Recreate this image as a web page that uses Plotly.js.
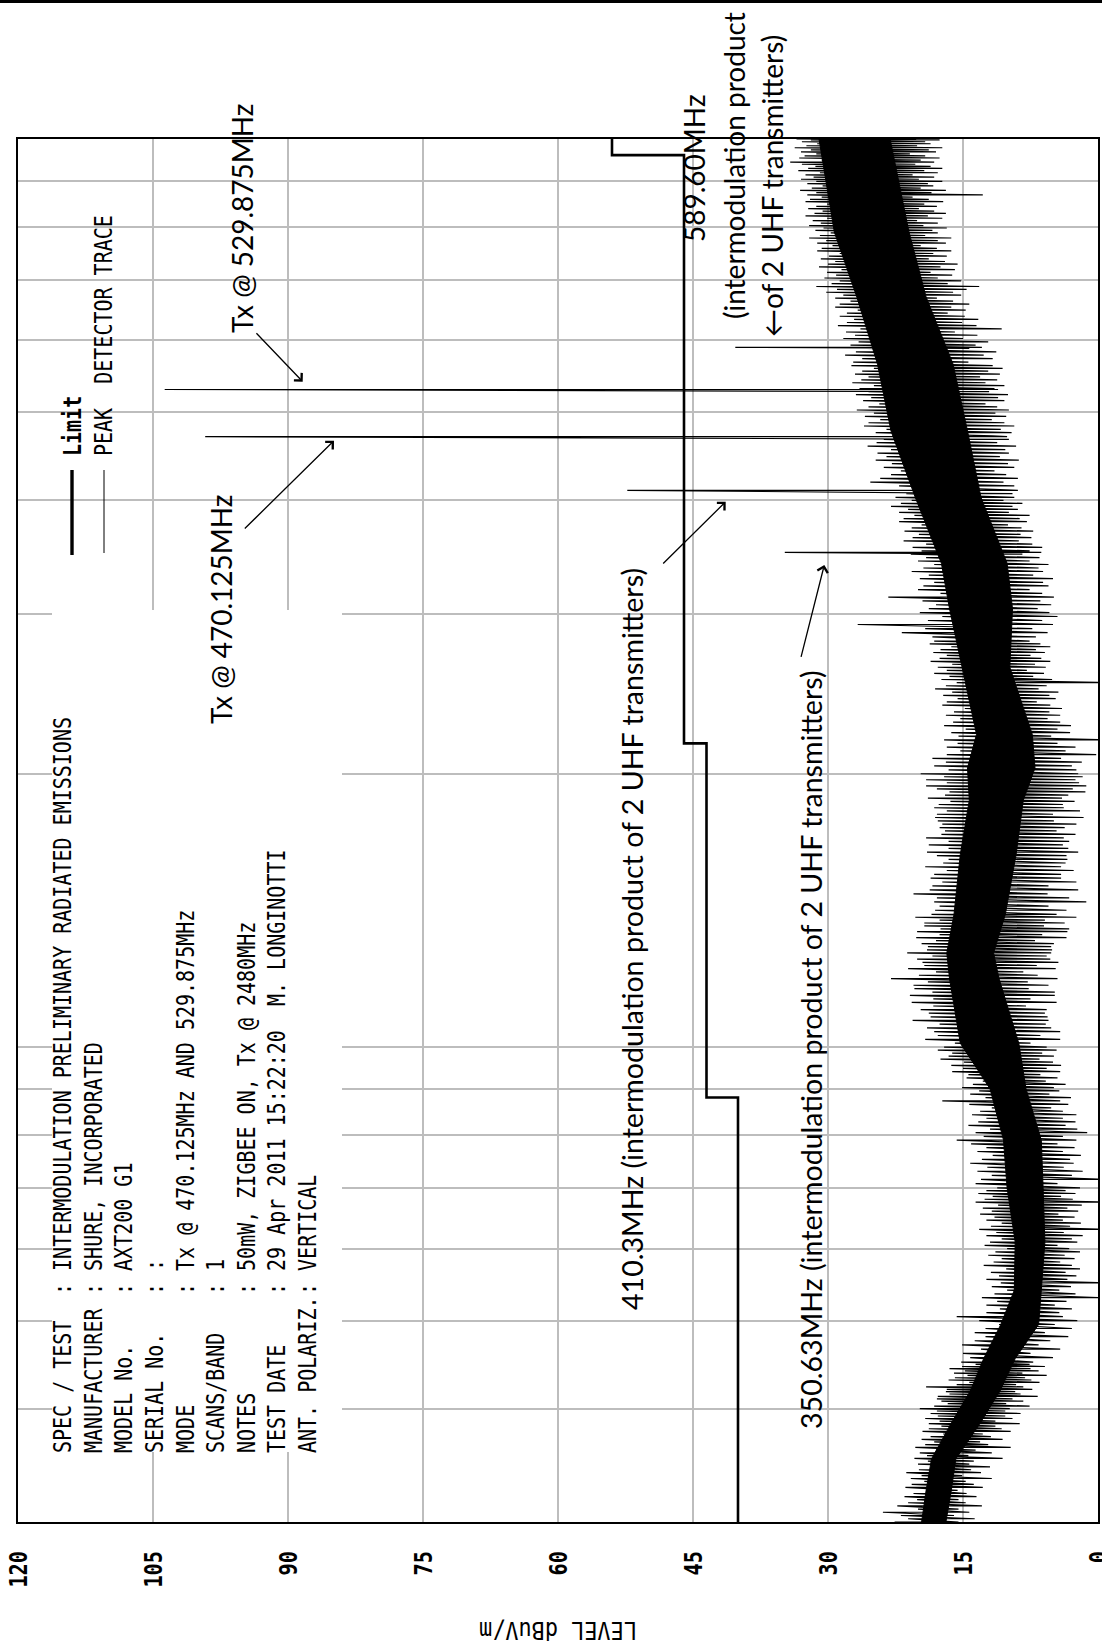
<!DOCTYPE html>
<html>
<head>
<meta charset="utf-8">
<script src="https://cdn.plot.ly/plotly-3.0.1.min.js"></script>
<style>
html,body{margin:0;padding:0;background:#fff;overflow:hidden;width:1102px;height:1644px;}
#chart{position:absolute;left:0;top:0;width:1644px;height:1102px;transform-origin:0 0;transform:translateY(1644px) rotate(-90deg);}
</style>
</head>
<body>
<div id="chart"></div>
<script>
// ---------------- DATA ----------------
const levelTicks = [0, 15, 30, 45, 60, 75, 90, 105, 120];
const freqGrid = [40, 50, 60, 70, 80, 90, 100, 200, 300, 400, 500, 600, 700, 800, 900];

// limit line (dBuV/m) vs frequency (MHz)
const limitFreq  = [30, 88, 88, 216, 216, 960, 960, 1000];
const limitLevel = [40, 40, 43.5, 43.5, 46, 46, 54, 54];

// densest (solid) part of the peak-detector noise band
const coreFreq = [30, 32.5, 35.2, 38.4, 41.8, 45.4, 49.5, 54, 61, 70, 79, 90, 101, 119, 127, 140, 163, 187, 203, 221, 262, 304, 341, 403, 477, 565, 670, 790, 1000];
const coreHigh = [19.6, 19.1, 18.5, 16.4, 14.2, 12.7, 10.8, 9.3, 9.2, 10.1, 10.5, 12.0, 15.3, 16.5, 16.8, 16.0, 15.3, 14.3, 14.5, 13.5, 15.1, 16.5, 17.4, 20.3, 23.0, 24.5, 26.8, 29.3, 31.0];
const coreLow  = [16.9, 16.3, 15.8, 13.2, 10.9, 9.2, 6.6, 6.3, 5.9, 6.1, 6.3, 8.0, 8.8, 11.0, 11.6, 10.3, 9.1, 8.3, 7.0, 7.3, 9.8, 9.5, 10.1, 13.0, 14.5, 16.1, 19.1, 21.0, 23.1];

// peak detector trace: min / max of the sweep read at each frequency (MHz)
const scanFreq = [
 30,30.25,30.5,30.75,31,31.25,31.5,31.75,32,32.25,32.5,32.75,33,33.25,33.5,33.75,34,34.25,34.5,34.75,35,35.25,35.5,35.75,36,36.25,36.5,36.75,37,37.25,37.5,37.75,38,38.25,38.5,38.75,39,39.25,39.5,39.75,40,40.25,40.5,40.75,41,41.25,41.5,41.75,42,42.25,42.5,42.75,43,43.25,43.5,43.75,44,44.25,44.5,44.75,45,
 45.5,46,46.5,47,47.5,48,48.5,49,49.5,50,50.5,51,51.5,52,52.5,53,53.5,54,54.5,55,55.5,56,56.5,57,57.5,58,58.5,59,59.5,60,60.5,61,61.5,62,62.5,63,63.5,64,64.5,65,65.5,66,66.5,67,67.5,68,68.5,69,69.5,70,
 70.75,71.5,72.25,73,73.75,74.5,75.25,76,76.75,77.5,78.25,79,79.75,80.5,81.25,82,82.75,83.5,84.25,85,85.75,86.5,87.25,88,88.75,89.5,90.25,91,91.75,92.5,93.25,94,94.75,95.5,96.25,97,97.75,98.5,99.25,100,
 101,102,103,104,105,106,107,108,109,110,111,112,113,114,115,116,117,118,119,120,121,122,123,124,125,126,127,128,129,130,131,132,133,134,135,136,137,138,139,140,
 141.5,143,144.5,146,147.5,149,150.5,152,153.5,155,156.5,158,159.5,161,162.5,164,165.5,167,168.5,170,171.5,173,174.5,176,177.5,179,180.5,182,183.5,185,186.5,188,189.5,191,192.5,194,195.5,197,198.5,200,
 202,204,206,208,210,212,214,216,218,220,222,224,226,228,230,232,234,236,238,240,242,244,246,248,250,252,254,256,258,260,262,264,266,268,270,272,274,276,278,280,
 283,286,289,292,295,298,301,304,307,310,313,316,319,322,325,328,331,334,337,340,343,346,349,350.63,352,355,358,361,364,367,370,373,376,379,382,385,388,391,394,397,400,403,
 407,410.3,411,415,419,423,427,431,435,439,443,447,451,455,459,463,467,470.125,471,475,479,483,487,491,495,499,503,507,511,515,519,523,527,529.875,531,535,539,543,547,551,555,559,563,
 568,573,578,583,588,589.6,593,598,603,608,613,618,623,628,633,638,643,648,653,658,663,668,673,678,683,688,693,698,703,708,713,718,723,728,733,738,743,748,753,758,763,768,773,778,783,788,793,798,803,808,813,818,823,828,833,838,843,848,853,858,863,868,873,878,883,888,893,898,903,908,913,918,923,928,933,938,943,948,953,958,963,968,973,978,983,988,993,998,1000
];
const scanLow = [
 15.5,13.7,16.0,14.3,15.5,12.9,14.7,15.5,13.5,14.6,15.6,12.8,13.8,14.7,11.8,15.1,13.0,14.1,12.0,14.3,13.8,10.6,14.4,11.8,13.6,9.7,12.2,13.1,10.6,11.9,12.8,9.7,10.7,11.4,8.7,11.4,9.5,10.3,8.6,10.3,9.8,7.6,10.2,8.3,9.5,6.7,8.6,9.2,7.3,8.3,9.1,6.5,7.4,8.1,5.7,8.4,6.6,7.5,5.9,7.6,7.2,
 5.0,7.5,4.2,6.6,5.3,3.3,5.9,2.9,4.8,2.3,3.9,4.3,2.9,4.8,3.5,-0.2,2.5,4.3,3.0,-1.0,3.4,2.4,3.6,2.0,2.9,4.2,2.6,3.7,2.0,3.2,4.5,2.3,2.9,1.7,3.8,-1.0,3.1,1.9,3.9,2.6,4.4,2.2,3.4,1.8,-1.0,2.8,4.1,2.5,3.6,2.0,
 4.5,-1.0,2.9,1.7,3.8,2.7,3.1,1.9,3.9,2.6,4.5,2.4,3.9,1.2,2.3,3.6,2.5,3.9,2.4,3.9,5.2,3.3,4.2,3.0,5.4,4.3,4.9,3.6,5.8,4.5,6.4,4.2,5.7,4.1,5.0,6.5,4.9,6.2,4.6,5.7,
 7.5,4.2,6.4,4.2,5.2,5.8,5.5,5.6,5.9,5.7,8.0,4.6,7.5,4.8,4.8,7.7,5.5,7.8,4.5,6.7,8.3,4.7,6.8,4.4,5.3,5.7,5.2,5.1,5.2,4.9,7.0,3.5,6.2,3.4,3.2,6.0,3.7,5.9,2.4,4.6,
 3.5,5.5,1.3,3.2,5.6,2.2,5.5,2.4,4.1,4.1,2.7,4.1,3.6,3.4,3.5,2.2,3.3,3.9,3.2,3.8,2.5,4.6,3.7,2.4,4.9,1.6,5.0,2.0,3.8,3.9,2.6,4.0,3.3,1.4,2.8,1.3,2.1,2.5,1.7,2.2,
 2.4,2.9,1.8,4.1,0.2,3.6,2.5,4.5,-1.0,5.2,3.1,4.5,3.0,4.2,5.6,4.2,5.4,4.0,5.3,6.8,4.7,5.4,4.4,6.6,5.7,-1.0,5.1,7.2,6.0,7.9,5.8,7.0,5.3,6.3,7.5,5.9,6.9,5.3,6.4,7.6,
 6.9,5.6,7.3,5.0,6.2,4.5,5.4,6.7,5.2,6.4,4.9,6.2,7.6,5.5,6.1,5.0,7.2,6.1,6.6,5.5,7.6,6.5,8.4,6.3,7.6,6.2,7.3,8.8,7.4,8.6,7.2,8.5,10.0,7.9,8.7,7.6,9.9,8.9,9.5,8.4,10.5,9.3,
 9.5,8.9,10.9,9.3,10.5,8.9,10.2,11.5,9.3,10.0,8.8,10.9,9.9,10.3,9.1,11.2,9.9,10.1,11.7,9.6,10.8,9.3,10.4,11.8,10.2,11.4,9.9,11.2,12.5,10.4,11.1,10.0,12.1,11.1,11.5,10.4,12.5,11.2,13.1,10.9,12.2,10.6,11.7,
 14.4,11.7,12.7,11.3,14.3,12.9,13.6,12.2,15.0,13.4,15.9,10.7,13.5,15.1,13.3,14.8,16.7,14.7,16.3,14.3,16.1,17.9,15.2,16.1,14.6,13.2,16.7,15.2,17.8,16.2,18.6,15.9,17.5,15.6,17.0,18.8,16.8,18.3,16.3,17.9,19.7,16.9,17.8,16.3,19.2,17.8,18.4,16.8,19.4,17.8,20.1,17.3,18.9,16.9,18.2,19.9,17.9,19.3,17.2,18.8,20.6,12.8,18.5,16.9,19.7,18.3,18.9,17.3,19.9,18.2,20.6,17.8,19.3,17.3,18.6,20.3,18.2,19.7,17.6,19.2,20.9,18.0,18.8,17.3,20.1,18.6,19.2,17.6,20.2
];
const scanHigh = [
 22.6,21.1,21.9,23.9,20.0,22.3,21.1,20.1,21.5,20.5,19.1,21.4,20.7,19.3,20.8,19.6,21.3,19.9,18.5,20.0,18.9,20.4,19.0,19.8,18.0,20.3,19.2,18.2,19.6,18.6,17.2,19.5,18.8,17.4,18.8,17.6,19.2,17.8,18.6,17.9,19.8,18.2,16.7,17.4,17.9,17.8,16.5,16.9,16.8,19.1,15.7,14.3,16.6,15.9,14.5,16.0,14.8,16.5,15.1,13.6,15.2,
 14.2,15.0,13.0,15.1,13.7,12.5,13.7,12.5,11.0,13.2,15.7,12.4,10.9,12.4,11.2,12.9,11.5,10.1,11.8,10.8,12.4,11.0,11.9,10.2,12.7,11.6,10.7,12.2,11.4,10.1,12.6,12.0,10.7,12.4,11.3,13.2,11.9,10.7,12.4,11.5,13.1,11.8,12.8,11.1,13.6,12.6,11.7,13.3,12.4,11.2,
 13.6,13.0,11.8,13.4,12.3,14.2,12.9,11.7,13.4,12.4,14.1,15.7,12.7,13.6,12.0,14.4,13.3,12.4,14.0,13.1,11.8,14.3,17.3,12.5,14.2,13.2,15.1,13.9,12.8,14.6,14.4,16.2,15.0,16.3,14.9,17.5,16.6,16.2,17.8,17.1,
 15.9,19.2,17.8,18.2,19.0,17.6,20.6,18.6,18.8,19.7,18.3,20.7,18.3,20.9,18.4,20.4,20.5,18.9,23.0,19.9,18.0,21.1,19.3,19.5,20.1,18.4,21.2,19.0,18.9,19.6,18.0,20.2,17.6,20.1,17.5,19.3,19.3,17.6,20.3,18.5,
 18.1,17.6,18.2,17.9,20.5,18.7,18.4,17.3,18.6,18.2,16.8,19.2,17.2,16.6,17.9,19.0,16.6,18.8,16.6,19.1,17.4,17.0,17.6,17.3,17.8,18.1,17.9,16.8,18.2,17.7,16.4,18.9,17.0,16.5,17.9,19.1,16.8,19.1,17.1,19.7,
 16.6,18.2,16.9,18.4,16.8,15.3,16.8,15.6,17.1,15.5,16.3,14.7,17.1,16.1,15.3,16.9,16.0,14.8,17.3,16.8,15.6,17.2,16.2,18.1,16.9,15.7,17.4,16.5,18.2,16.8,17.8,16.2,18.6,17.6,16.8,18.3,17.5,16.3,18.7,18.2,
 18.4,21.8,19.2,26.7,18.9,17.3,19.8,18.8,18.0,19.5,23.3,17.5,20.0,19.4,18.2,19.8,18.8,20.7,19.4,18.2,20.0,19.1,20.8,34.8,19.6,20.6,19.1,21.6,20.6,19.9,21.5,20.7,19.6,22.1,21.6,20.4,22.1,21.1,23.0,21.9,20.7,22.5,
 21.3,52.3,23.0,22.1,25.3,24.2,23.0,21.9,23.8,22.9,24.7,23.5,24.5,23.0,25.6,24.6,23.8,99.2,25.5,24.7,23.5,26.0,25.5,24.2,25.9,24.9,26.8,25.5,24.3,26.1,25.2,26.9,25.5,103.7,26.5,24.9,27.3,26.3,25.5,27.0,26.2,24.9,27.4,
 27.2,26.2,28.1,26.9,25.7,40.3,27.5,26.6,28.3,27.0,28.0,26.4,28.9,27.9,27.1,28.7,27.9,26.7,29.2,28.7,27.5,29.2,28.3,30.2,29.0,31.3,29.6,28.7,30.4,29.1,30.1,28.5,31.0,30.0,29.2,30.8,29.9,28.7,31.2,30.7,29.5,31.2,30.2,32.1,30.9,29.7,31.4,30.5,32.1,30.8,31.7,30.1,32.5,31.5,30.6,32.2,31.3,30.1,32.5,32.0,30.7,32.3,31.3,33.1,31.8,30.6,32.3,31.3,33.0,31.6,32.5,30.9,33.3,32.2,31.4,32.9,34.2,30.7,33.2,32.6,31.3,33.0,31.9,33.7,32.4,31.2,32.9,31.9,33.5
];

// header block
const headerLabels = ["SPEC / TEST", "MANUFACTURER", "MODEL No.", "SERIAL No.", "MODE", "SCANS/BAND", "NOTES", "TEST DATE", "ANT. POLARIZ."];
const headerValues = [": INTERMODULATION PRELIMINARY RADIATED EMISSIONS", ": SHURE, INCORPORATED", ": AXT200 G1", ": :", ": Tx @ 470.125MHz AND 529.875MHz", ": 1", ": 50mW, ZIGBEE ON, Tx @ 2480MHz", ": 29 Apr 2011 15:22:20\u00a0\u00a0M. LONGINOTTI", ": VERTICAL"];

// notes on the chart
const noteTexts = ["Tx @ 529.875MHz", "Tx @ 470.125MHz", "410.3MHz (intermodulation product of 2 UHF transmitters)", "350.63MHz (intermodulation product of 2 UHF transmitters)", "589.60MHz", "(intermodulation product", "\u2190of 2 UHF transmitters)"];
const legendTexts = ["Limit", "PEAK\u00a0\u00a0DETECTOR TRACE"];
const axisTitle = "LEVEL dBuV/m";

// ---------------- LAYOUT GEOMETRY (landscape canvas, page turned by CSS) ----------------
const W = 1644, H = 1102, ML = 122, MR = 139, MT = 18, MB = 4;
const PW = W - ML - MR, PH = H - MT - MB;
// position on the turned page (sx = across, sy = down) -> paper coords
function px(sy) { return (W - sy - ML) / PW; }
function py(sx) { return (H - MB - sx) / PH; }

const plotterFont = "DejaVu Sans Mono, Liberation Mono, monospace";
const noteFont = "Lato, Carlito, Open Sans, sans-serif";

// ---------------- TRACES ----------------
const coreTrace = {
  type: 'scatter', mode: 'lines', hoverinfo: 'skip',
  x: coreFreq.concat(coreFreq.slice().reverse()),
  y: coreHigh.concat(coreLow.slice().reverse()),
  fill: 'toself', fillcolor: '#000', line: {color: '#000', width: 1}
};
const nScan = Math.min(scanFreq.length, scanLow.length, scanHigh.length);
const peakX = [], peakY = [];
for (let i = 0; i < nScan; i++) {
  peakX.push(scanFreq[i], scanFreq[i]);
  peakY.push(scanHigh[i], scanLow[i]);
}
const peakTrace = {type: 'scatter', mode: 'lines', x: peakX, y: peakY, line: {color: '#000', width: 1.2}, hoverinfo: 'skip'};
const limitTrace = {type: 'scatter', mode: 'lines', x: limitFreq, y: limitLevel, line: {color: '#000', width: 2.6}, hoverinfo: 'skip'};

// ---------------- SHAPES ----------------
const shapes = [
  {type: 'rect', xref: 'paper', yref: 'paper', x0: px(1452), x1: px(610), y0: py(342), y1: py(52), fillcolor: '#fff', line: {width: 0}, layer: 'above'},
  {type: 'line', xref: 'paper', yref: 'paper', x0: px(555), x1: px(470), y0: py(72), y1: py(72), line: {color: '#000', width: 3.4}},
  {type: 'line', xref: 'paper', yref: 'paper', x0: px(553), x1: px(470), y0: py(104), y1: py(104), line: {color: '#000', width: 1}},
  {type: 'line', xref: 'paper', yref: 'paper', x0: px(1.5), x1: px(1.5), y0: py(0), y1: py(H), line: {color: '#000', width: 3}}
];

// ---------------- ANNOTATIONS ----------------
const annotations = [];
for (let i = 0; i < headerLabels.length; i++) {
  const sx = 63 + 30.5 * i;
  annotations.push({xref: 'paper', yref: 'paper', x: px(1455), y: py(sx), xanchor: 'left', yanchor: 'middle', align: 'left', showarrow: false, text: headerLabels[i], font: {family: plotterFont, size: 25, color: '#000'}});
  annotations.push({xref: 'paper', yref: 'paper', x: px(1297), y: py(sx), xanchor: 'left', yanchor: 'middle', align: 'left', showarrow: false, text: headerValues[i], font: {family: plotterFont, size: 25, color: '#000'}});
}
annotations.push({xref: 'paper', yref: 'paper', x: px(458), y: py(72), xanchor: 'left', yanchor: 'middle', align: 'left', showarrow: false, text: legendTexts[0], font: {family: plotterFont, size: 25, color: '#000', weight: 'bold'}});
annotations.push({xref: 'paper', yref: 'paper', x: px(458), y: py(104), xanchor: 'left', yanchor: 'middle', align: 'left', showarrow: false, text: legendTexts[1], font: {family: plotterFont, size: 25, color: '#000'}});

const notePos = [[242, 218], [221, 609], [632, 939], [811, 1050], [694, 168], [734, 166], [772, 186]];
const noteSize = [28, 28, 28.6, 28.6, 28, 28, 28];
for (let i = 0; i < noteTexts.length; i++) {
  annotations.push({xref: 'paper', yref: 'paper', x: px(notePos[i][1]), y: py(notePos[i][0]), xanchor: 'center', yanchor: 'middle', showarrow: false, text: noteTexts[i], font: {family: noteFont, size: noteSize[i], color: '#000'}});
}
const arrows = [
  [[302.7, 381.7], [255, 331.7]],
  [[334, 440.7], [243.3, 530]],
  [[725.7, 501.7], [661.7, 565]],
  [[824.3, 565], [800.7, 658.3]]
];
arrows.forEach(a => {
  const h = a[0], t = a[1];
  annotations.push({xref: 'paper', yref: 'paper', x: px(h[1]), y: py(h[0]), ax: h[1] - t[1], ay: t[0] - h[0], text: '', showarrow: true, arrowhead: 4, arrowsize: 1.6, arrowwidth: 1.3, arrowcolor: '#000', standoff: 0});
});

const layout = {
  width: W, height: H,
  margin: {l: ML, r: MR, t: MT, b: MB, pad: 0},
  paper_bgcolor: '#fff', plot_bgcolor: '#fff',
  showlegend: false,
  xaxis: {
    type: 'log', range: [Math.log10(30), 3], tickvals: freqGrid, showticklabels: false, ticks: '',
    showgrid: true, gridcolor: '#bdbdbd', gridwidth: 2,
    showline: true, mirror: true, linecolor: '#000', linewidth: 2, zeroline: false, automargin: false, fixedrange: true
  },
  yaxis: {
    range: [0, 120], tickvals: levelTicks, ticktext: levelTicks.map(String), ticks: '', ticklabelstandoff: 22,
    ticklabeloverflow: 'allow',
    tickfont: {family: plotterFont, size: 25, color: '#000', weight: 'bold'},
    showgrid: true, gridcolor: '#bdbdbd', gridwidth: 2,
    showline: true, mirror: true, linecolor: '#000', linewidth: 2, zeroline: false, automargin: false, fixedrange: true,
    title: {text: axisTitle, font: {family: plotterFont, size: 24, color: '#000'}, standoff: 23}
  },
  shapes: shapes,
  annotations: annotations
};

// narrow the plotter-style lettering (tall, condensed glyphs)
function fitText(el, ratio, keep) {
  const L = el.getComputedTextLength();
  if (!L) return;
  const b0 = el.getBBox();
  el.setAttribute('textLength', (L * ratio).toFixed(2));
  el.setAttribute('lengthAdjust', 'spacingAndGlyphs');
  const b1 = el.getBBox();
  let dx = 0;
  if (keep === 'left') dx = b0.x - b1.x;
  else if (keep === 'right') dx = (b0.x + b0.width) - (b1.x + b1.width);
  if (Math.abs(dx) > 0.01) {
    const t = el.getAttribute('transform') || '';
    el.setAttribute('transform', (t + ' translate(' + dx.toFixed(2) + ',0)').trim());
  }
}

Plotly.newPlot('chart', [coreTrace, peakTrace, limitTrace], layout, {staticPlot: true, displayModeBar: false}).then(gd => {
  const plotterTexts = new Set(headerLabels.concat(headerValues, legendTexts));
  gd.querySelectorAll('.annotation-text').forEach(el => {
    if (plotterTexts.has(el.textContent)) fitText(el, 0.80, 'left');
  });
  gd.querySelectorAll('.ytick text').forEach(el => fitText(el, 0.81, 'right'));
  const tt = gd.querySelector('.ytitle');
  if (tt) fitText(tt, 0.91, 'center');
});
</script>
</body>
</html>
